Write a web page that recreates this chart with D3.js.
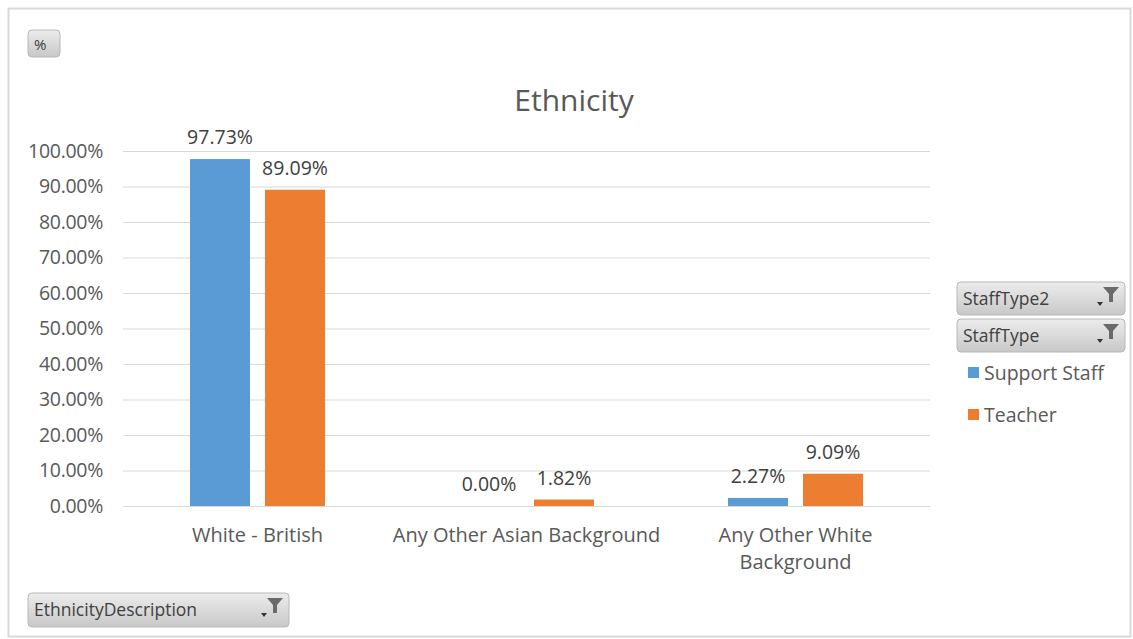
<!DOCTYPE html>
<html><head><meta charset="utf-8">
<script src="https://cdn.jsdelivr.net/npm/d3@7"></script>
<style>body{margin:0;background:#fff;font-family:"Open Sans","Noto Sans",sans-serif;}</style>
</head><body><svg id="c" width="1133" height="639"></svg>
<script>
const categories = ["White - British", "Any Other Asian Background", "Any Other White Background"];
const seriesNames = ["Support Staff", "Teacher"];
const supportStaff = [97.73, 0.00, 2.27];
const teacher = [89.09, 1.82, 9.09];
const yTicks = [0,10,20,30,40,50,60,70,80,90,100];
const colors = ["#5b9bd5", "#ed7d31"];

(function(){
const svg = d3.select("#c");
const txt = "#595959";
svg.append("rect").attr("x",8.5).attr("y",8.5).attr("width",1122).attr("height",628).attr("fill","none").attr("stroke","#d9d9d9").attr("stroke-width",2);

const pLeft=123, pRight=930, pTop=151, pBottom=506;
const x = d3.scaleBand().domain(categories).range([pLeft,pRight]);
const y = d3.scaleLinear().domain([0,100]).range([pBottom,pTop]);

svg.append("g").selectAll("line").data(yTicks).join("line")
  .attr("x1",pLeft).attr("x2",pRight).attr("y1",d=>y(d)+0.5).attr("y2",d=>y(d)+0.5)
  .attr("stroke","#d9d9d9").attr("stroke-width",1);

const yAxis = d3.axisLeft(y).tickValues(yTicks).tickFormat(d=>d.toFixed(2)+"%").tickSize(0).tickPadding(20);
const ga = svg.append("g").attr("transform",`translate(${pLeft},0)`).call(yAxis);
ga.select(".domain").remove();
ga.selectAll("text").attr("fill",txt).attr("font-size",19.5).attr("font-family","Open Sans, sans-serif").attr("letter-spacing",-0.3);

const data = [];
categories.forEach((c,i)=>{
  data.push({c, s:0, v:supportStaff[i]});
  data.push({c, s:1, v:teacher[i]});
});
const innerW = 60, gap = 15;
const bx = d => x(d.c) + x.bandwidth()/2 + (d.s===0 ? -gap/2-innerW : gap/2);
svg.append("g").selectAll("rect").data(data).join("rect")
  .attr("x",bx).attr("width",innerW)
  .attr("y",d=>y(d.v)).attr("height",d=>pBottom-y(d.v))
  .attr("fill",d=>colors[d.s]);

svg.append("g").selectAll("text").data(data).join("text")
  .attr("x",d=>bx(d)+innerW/2).attr("y",d=>y(d.v)-15)
  .attr("text-anchor","middle").attr("fill","#404040").attr("font-size",19.5)
  .text(d=>d.v.toFixed(2)+"%");

const xl = svg.append("g").selectAll("text").data(categories).join("text")
  .attr("text-anchor","middle").attr("fill",txt).attr("font-size",20)
  .attr("x",d=>x(d)+x.bandwidth()/2).attr("y",542);
xl.each(function(d){
  const t = d3.select(this);
  if (d === "Any Other White Background") {
    t.append("tspan").attr("x",x(d)+x.bandwidth()/2).attr("dy",0).text("Any Other White");
    t.append("tspan").attr("x",x(d)+x.bandwidth()/2).attr("dy",27).text("Background");
  } else t.text(d);
});

svg.append("text").attr("x",574).attr("y",111).attr("text-anchor","middle").attr("fill",txt)
  .attr("font-size",30).text("Ethnicity");

const grad = svg.append("defs").append("linearGradient").attr("id","bg").attr("x1",0).attr("x2",0).attr("y1",0).attr("y2",1);
grad.append("stop").attr("offset","0%").attr("stop-color","#ececec");
grad.append("stop").attr("offset","100%").attr("stop-color","#c8c8c8");
function button(x0,y0,w,h,label,filter){
  const g = svg.append("g");
  g.append("rect").attr("x",x0).attr("y",y0).attr("width",w).attr("height",h).attr("rx",4)
    .attr("fill","url(#bg)").attr("stroke","#b8b8b8");
  g.append("text").attr("x",x0+6).attr("y",y0+h/2+6).attr("fill","#404040").attr("font-size",label==="%"?15:17.5)
    .attr("font-family","Open Sans, sans-serif").text(label);
  if(filter){
    const fx = x0+w-14, fy = y0+5;
    g.append("path").attr("d",`M${fx-8},${fy} L${fx+8},${fy} L${fx+2},${fy+7} L${fx+2},${fy+15} L${fx-2},${fy+15} L${fx-2},${fy+7} Z`).attr("fill","#6a6a6a");
    g.append("path").attr("d",`M${fx-14},${fy+15} L${fx-8},${fy+15} L${fx-11},${fy+19} Z`).attr("fill","#333");
  }
}
button(28,30,32,27,"%",false);
button(957,282,168,33,"StaffType2",true);
button(957,319,168,33,"StaffType",true);
button(28,593,261,34,"EthnicityDescription",true);

const leg = svg.append("g").selectAll("g").data(seriesNames).join("g")
  .attr("transform",(d,i)=>`translate(968,${367+i*42})`);
leg.append("rect").attr("width",11).attr("height",11).attr("fill",(d,i)=>colors[i]);
leg.append("text").attr("x",16).attr("y",13).attr("fill",txt).attr("font-size",19.5).text(d=>d);
})();
</script></body></html>
